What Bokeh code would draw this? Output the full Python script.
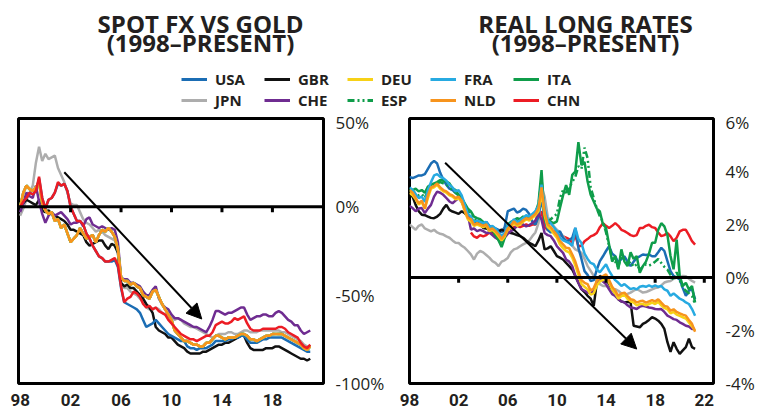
import numpy as np
from bokeh.plotting import figure
from bokeh.layouts import column, row
from bokeh.models import (Range1d, FixedTicker, PrintfTickFormatter, Span, Arrow,
                          NormalHead, Legend, LegendItem)
from bokeh.core.properties import value
from bokeh.embed import file_html
from bokeh.resources import INLINE

# ---------------- data ----------------
QUARTERS_RR = [1998.0 + 0.25 * i for i in range(94)]   # 1998Q1 .. 2021Q2
QUARTERS_FX = QUARTERS_RR[:93]                          # 1998Q1 .. 2021Q1

COUNTRIES = ["USA", "GBR", "DEU", "FRA", "ITA", "JPN", "CHE", "ESP", "NLD", "CHN"]
COLORS = {"USA": "#1b6db4", "GBR": "#111111", "DEU": "#f7d117", "FRA": "#27aae1",
          "ITA": "#0f9d4a", "JPN": "#adadad", "CHE": "#6f2c91", "ESP": "#0f9d4a",
          "NLD": "#f7941d", "CHN": "#ec1c24"}

TITLE_FX = ["SPOT FX VS GOLD", "(1998\u2013PRESENT)"]
TITLE_RR = ["REAL LONG RATES", "(1998\u2013PRESENT)"]

# Spot FX vs gold, % change since 1998 (euro members share one series)
FX_USA = [0, 3, 5, 8, 7, 9, 16, 5, -1, 4, 5, 8, 13, 12, 13, 9,
          0, -4, -8, -8, -10, -15, -18, -22, -25, -28, -29, -31, -31, -31, -30, -34,
          -46, -54, -55, -56, -57, -58, -60, -64, -68, -67, -66, -64, -66, -68, -70, -72,
          -73, -74, -75, -76, -76, -79, -80, -80, -81, -80, -80, -80, -79, -78, -76, -76,
          -76, -76, -75, -75, -74, -74, -73, -73, -75, -77, -77, -77, -76, -75, -75, -74,
          -74, -74, -74, -74, -75, -76, -77, -78, -79, -80, -81, -82, -82]
FX_GBR = [0, 2, 4, 3, 2, 1, 4, -2, -3, -2, -4, -5, -6, -7, -8, -10,
          -13, -13, -14, -15, -16, -20, -22, -21, -20, -19, -19, -22, -24, -21, -22, -26,
          -43, -45, -44, -46, -46, -48, -50, -52, -55, -57, -60, -68, -70, -71, -72, -74,
          -74, -76, -78, -79, -80, -82, -83, -83, -83, -83, -82, -82, -81, -80, -79, -78,
          -78, -77, -77, -76, -75, -74, -73, -73, -77, -80, -81, -81, -81, -81, -80, -80,
          -80, -79, -79, -80, -81, -82, -83, -84, -85, -86, -86, -87, -86]
FX_EUR = [0, 8, 12, 10, 9, 11, 14, 2, -2, -4, -3, -8, -7, -12, -10, -15,
          -20, -18, -16, -12, -15, -18, -17, -16, -20, -16, -13, -14, -12, -14, -17, -24,
          -40, -42, -42, -44, -43, -45, -46, -50, -51, -52, -48, -47, -51, -55, -58, -61,
          -64, -70, -72, -74, -76, -76, -77, -78, -78, -79, -79, -77, -77, -75, -73, -73,
          -74, -75, -74, -74, -74, -73, -72, -72, -73, -75, -75, -76, -75, -74, -73, -73,
          -72, -72, -72, -72, -73, -74, -75, -76, -77, -78, -80, -81, -79]
FX_JPN = [-5, -1, 4, 8, 12, 25, 34, 26, 30, 27, 28, 29, 22, 18, 14, 8,
          2, 1, 1, -3, -7, -9, -10, -12, -14, -13, -14, -16, -17, -18, -19, -25,
          -43, -46, -46, -48, -49, -50, -52, -54, -57, -58, -58, -57, -58, -60, -61, -62,
          -63, -64, -63, -64, -66, -67, -68, -68, -69, -70, -71, -72, -73, -74, -73, -72,
          -72, -72, -71, -71, -72, -72, -71, -70, -70, -71, -71, -71, -70, -70, -70, -70,
          -70, -70, -70, -71, -71, -72, -73, -74, -75, -76, -78, -79, -79]
FX_CHE = [-3, 2, 8, 6, 5, 12, 3, -4, -9, -5, -3, -5, -4, -3, -5, -7,
          -10, -9, -9, -8, -11, -7, -6, -10, -11, -12, -11, -12, -13, -12, -13, -20,
          -40, -41, -41, -43, -43, -44, -45, -48, -50, -50, -47, -45, -52, -55, -57, -58,
          -61, -63, -63, -64, -65, -66, -67, -68, -68, -69, -70, -71, -68, -64, -59, -59,
          -60, -61, -60, -60, -59, -58, -57, -57, -61, -64, -63, -62, -62, -61, -61, -62,
          -62, -60, -59, -60, -62, -64, -65, -67, -67, -70, -72, -71, -70]
FX_CHN = [0, 3, 5, 8, 7, 9, 17, 5, -1, 4, 5, 8, 14, 12, 13, 9,
          0, -4, -8, -8, -10, -15, -18, -22, -25, -28, -29, -31, -31, -30, -29, -33,
          -45, -54, -52, -51, -48, -49, -51, -55, -57, -56, -58, -57, -59, -60, -61, -64,
          -66, -68, -70, -72, -73, -74, -75, -75, -76, -75, -74, -73, -73, -71, -67, -66,
          -65, -66, -66, -65, -63, -64, -63, -62, -66, -69, -70, -70, -70, -69, -69, -69,
          -69, -69, -68, -68, -69, -71, -72, -73, -74, -77, -79, -80, -78]

# Real long rates, %
RR_USA = [3.8, 3.75, 3.8, 3.85, 3.85, 3.9, 4.1, 4.3, 4.4, 4.3, 3.95, 3.7, 3.5, 3.35, 3.3, 3.2,
          3.1, 3.0, 2.7, 2.4, 2.2, 2.05, 2.1, 2.05, 2.0, 2.1, 1.95, 1.9, 1.85, 1.8, 1.7, 1.9,
          2.5, 2.55, 2.6, 2.45, 2.5, 2.6, 2.55, 2.4, 2.1, 2.0, 2.3, 3.0, 2.2, 1.8, 1.7, 1.75,
          1.7, 1.74, 1.5, 1.37, 1.4, 1.5, 1.87, 1.12, 0.7, 0.24, 0.1, -0.13, -0.1, 0.3, 0.62, 0.8,
          1.0, 1.18, 0.9, 0.8, 0.56, 0.7, 0.8, 0.6, 0.43, 0.6, 0.74, 0.8, 0.87, 0.85, 0.87, 0.8,
          0.8, 0.95, 1.12, 1.0, 0.62, 0.24, 0.06, 0.0, -0.07, -0.4, -0.69, -0.5, -0.44, -0.82]
RR_GBR = [3.1, 3.05, 2.74, 2.5, 2.37, 2.35, 2.3, 2.25, 2.24, 2.3, 2.4, 2.6, 2.74, 2.55, 2.49, 2.45,
          2.4, 2.5, 2.43, 2.3, 2.12, 2.05, 2.1, 2.0, 1.87, 1.85, 1.8, 1.75, 1.68, 1.72, 1.81, 1.75,
          1.7, 1.68, 1.65, 1.6, 1.56, 1.5, 1.4, 1.31, 1.25, 1.18, 1.4, 1.68, 1.06, 1.1, 1.18, 1.0,
          0.81, 0.75, 0.68, 0.55, 0.43, 0.3, 0.06, -0.2, -0.44, -0.55, -0.69, -0.8, -1.07, -0.19, 0.06, 0.0,
          -0.07, -0.25, -0.44, -0.6, -0.82, -0.9, -0.94, -0.92, -0.94, -1.82, -1.85, -1.88, -1.75, -1.69, -1.6, -1.5,
          -1.55, -1.63, -1.75, -1.94, -2.44, -2.81, -2.44, -2.69, -2.88, -2.75, -2.63, -2.31, -2.63, -2.69]
RR_DEU = [3.2, 3.1, 2.95, 2.75, 2.85, 2.6, 3.0, 3.35, 3.4, 3.5, 3.35, 3.25, 3.2, 3.1, 3.05, 2.95,
          3.0, 2.85, 2.5, 2.2, 2.1, 1.95, 2.0, 1.95, 1.9, 1.95, 1.75, 1.8, 1.7, 1.55, 1.4, 1.55,
          1.8, 1.9, 2.05, 1.95, 2.0, 2.1, 2.2, 2.15, 2.25, 2.35, 2.5, 3.2, 2.35, 1.9, 1.8, 1.65,
          1.5, 1.25, 1.1, 1.0, 0.95, 0.75, 0.45, 0.1, -0.25, -0.35, -0.45, -0.65, -0.6, -0.3, -0.15, -0.1,
          0.0, -0.2, -0.45, -0.6, -0.8, -0.7, -0.65, -0.8, -0.9, -0.95, -1.05, -1.0, -1.0, -1.05, -1.0, -0.95,
          -1.0, -0.92, -1.05, -1.15, -1.2, -1.35, -1.3, -1.4, -1.45, -1.5, -1.55, -1.7, -1.85, -2.0]
RR_FRA = [3.4, 3.3, 3.15, 3.0, 3.05, 2.85, 3.3, 3.6, 3.85, 3.9, 3.8, 3.75, 3.65, 3.5, 3.4, 3.25,
          3.3, 3.1, 2.75, 2.4, 2.3, 2.1, 2.15, 2.1, 2.05, 2.1, 1.9, 1.95, 1.85, 1.7, 1.55, 1.7,
          1.95, 2.05, 2.2, 2.1, 2.15, 2.25, 2.35, 2.3, 2.4, 2.5, 2.7, 3.5, 2.6, 2.15, 2.05, 1.9,
          1.75, 1.5, 1.4, 1.35, 1.3, 1.2, 1.87, 1.45, 1.3, 0.9, 0.7, 0.55, 0.5, 0.3, 0.2, 0.35,
          0.5, 0.25, 0.06, -0.1, -0.2, -0.32, -0.25, -0.35, -0.44, -0.4, -0.45, -0.35, -0.32, -0.35, -0.3, -0.35,
          -0.3, -0.35, -0.32, -0.45, -0.5, -0.69, -0.6, -0.7, -0.8, -0.85, -0.94, -1.0, -1.19, -1.44]
RR_ITA = [3.35, 3.3, 3.35, 3.25, 3.3, 3.2, 3.43, 3.5, 3.55, 3.6, 3.68, 3.65, 3.62, 3.55, 3.37, 3.3,
          3.12, 3.0, 2.8, 2.6, 2.49, 2.3, 2.24, 2.2, 2.1, 2.0, 1.87, 1.8, 1.62, 1.4, 1.15, 1.5,
          2.0, 2.1, 2.15, 2.24, 2.2, 2.3, 2.25, 2.3, 2.37, 2.45, 2.8, 4.05, 2.2, 2.0, 2.1, 2.05,
          2.12, 2.62, 3.1, 3.49, 3.12, 3.87, 4.0, 5.11, 4.24, 4.36, 3.62, 3.12, 2.87, 2.6, 2.49, 2.0,
          1.87, 1.24, 0.6, 0.81, 0.31, 1.06, 0.6, 0.43, 0.95, 0.7, 0.81, 0.18, 0.43, 0.6, 0.9, 1.31,
          1.31, 1.8, 2.05, 1.93, 1.6, 0.81, 0.31, 1.43, 0.06, -0.32, -0.2, -0.45, -0.32, -0.94]
RR_JPN = [2.0, 1.9, 1.8, 1.95, 2.0, 1.85, 1.8, 1.74, 1.8, 1.7, 1.65, 1.62, 1.55, 1.5, 1.4, 1.31,
          1.3, 1.2, 1.12, 1.0, 0.87, 0.68, 0.9, 1.0, 0.95, 0.85, 0.75, 0.62, 0.55, 0.43, 0.6, 0.65,
          0.74, 0.95, 1.06, 1.1, 1.18, 1.25, 1.31, 1.4, 1.56, 1.7, 2.05, 3.43, 3.05, 2.3, 2.1, 1.93,
          1.8, 1.7, 1.56, 1.4, 1.31, 1.2, 1.06, 1.0, 0.93, 0.7, 0.43, 0.25, 0.06, -0.19, -0.25, -0.32,
          -0.32, -0.38, -0.44, -0.44, -0.5, -0.6, -0.69, -0.62, -0.57, -0.5, -0.44, -0.5, -0.57, -0.55, -0.5, -0.45,
          -0.4, -0.38, -0.3, -0.19, -0.15, -0.13, -0.05, 0.0, 0.0, 0.06, 0.05, -0.05, -0.13, -0.19]
RR_CHE = [2.7, 2.62, 2.5, 2.6, 2.62, 2.43, 2.6, 2.74, 3.05, 3.24, 3.2, 3.12, 3.0, 2.87, 2.8, 2.9,
          3.0, 2.85, 2.6, 2.37, 1.81, 1.85, 1.75, 1.8, 1.75, 1.68, 1.7, 1.6, 1.5, 1.43, 1.37, 1.5,
          1.65, 1.75, 1.81, 1.95, 2.05, 2.0, 1.93, 1.98, 2.05, 2.15, 2.43, 2.18, 1.68, 1.6, 1.56, 1.4,
          1.18, 1.05, 0.93, 0.68, 0.6, 0.43, 0.06, -0.2, -0.44, -0.5, -0.57, -0.6, -0.5, -0.2, -0.07, -0.15,
          -0.25, -0.45, -0.63, -0.7, -0.82, -0.9, -0.94, -1.05, -1.13, -1.15, -1.19, -1.1, -1.07, -1.1, -1.13, -1.15,
          -1.19, -1.2, -1.19, -1.3, -1.44, -1.5, -1.57, -1.6, -1.69, -1.75, -1.82, -1.85, -1.94, -1.94]
RR_ESP = [3.3, 3.2, 3.2, 3.1, 3.15, 3.0, 3.3, 3.45, 3.5, 3.55, 3.6, 3.55, 3.5, 3.4, 3.3, 3.2,
          3.1, 2.95, 2.7, 2.5, 2.35, 2.2, 2.15, 2.1, 2.0, 1.95, 1.8, 1.75, 1.6, 1.45, 1.3, 1.5,
          1.9, 2.0, 2.1, 2.15, 2.1, 2.2, 2.2, 2.25, 2.3, 2.4, 2.7, 3.7, 2.3, 2.1, 2.2, 2.3,
          2.4, 3.0, 3.3, 3.2, 3.4, 3.6, 3.8, 4.2, 4.1, 4.9, 4.5, 3.4, 3.0, 2.6, 2.3, 2.1,
          1.7, 1.2, 0.7, 0.6, 0.4, 0.8, 0.7, 0.5, 0.6, 0.4, 0.5, 0.3, 0.4, 0.5, 0.45, 0.5,
          0.6, 0.7, 0.55, 0.4, 0.3, 0.1, -0.1, 0.2, -0.1, -0.4, -0.5, -0.6, -0.7, -1.0]
RR_NLD = [3.3, 3.2, 3.0, 2.8, 2.9, 2.6, 3.1, 3.4, 3.45, 3.55, 3.4, 3.3, 3.25, 3.15, 3.1, 3.0,
          3.05, 2.9, 2.55, 2.25, 2.2, 1.99, 2.05, 2.0, 1.95, 2.0, 1.8, 1.85, 1.75, 1.62, 1.45, 1.6,
          1.85, 1.95, 2.12, 2.0, 2.05, 2.15, 2.24, 2.2, 2.3, 2.4, 2.6, 3.4, 2.45, 2.0, 1.9, 1.74,
          1.6, 1.37, 1.25, 1.12, 1.1, 0.87, 0.6, 0.24, -0.1, -0.2, -0.25, -0.5, -0.4, -0.13, 0.0, 0.05,
          0.12, -0.1, -0.35, -0.5, -0.69, -0.6, -0.57, -0.7, -0.82, -0.85, -0.94, -0.9, -0.88, -0.95, -0.9, -0.85,
          -0.9, -0.82, -0.95, -1.07, -1.1, -1.25, -1.2, -1.3, -1.35, -1.4, -1.44, -1.6, -1.75, -2.05]
NA = float("nan")
RR_CHN = [NA] * 20 + [
          1.7, 1.55, 1.5, 1.6, 1.55, 1.6, 1.7, 1.65, 1.6, 1.55, 1.5, 1.65,
          1.8, 1.85, 1.9, 1.95, 1.9, 1.95, 2.0, 1.95, 2.0, 2.0, 2.2, 2.5, 1.9, 1.8, 1.75, 1.7,
          1.65, 1.6, 1.55, 1.5, 1.45, 1.3, 1.6, 1.18, 1.2, 1.37, 1.45, 1.55, 1.6, 1.68, 1.9, 2.05,
          1.95, 1.87, 1.95, 2.05, 1.95, 1.8, 1.75, 1.68, 1.6, 1.56, 1.6, 1.87, 1.87, 1.95, 1.99, 1.9,
          1.87, 1.7, 1.56, 1.6, 1.68, 1.55, 1.37, 1.5, 1.74, 1.8, 1.8, 1.6, 1.37, 1.24]

FX_SERIES = {"USA": FX_USA, "GBR": FX_GBR, "DEU": FX_EUR, "FRA": FX_EUR, "ITA": FX_EUR,
             "JPN": FX_JPN, "CHE": FX_CHE, "ESP": FX_EUR, "NLD": FX_EUR, "CHN": FX_CHN}
RR_SERIES = {"USA": RR_USA, "GBR": RR_GBR, "DEU": RR_DEU, "FRA": RR_FRA, "ITA": RR_ITA,
             "JPN": RR_JPN, "CHE": RR_CHE, "ESP": RR_ESP, "NLD": RR_NLD, "CHN": RR_CHN}
FX_ORDER = ["JPN", "GBR", "USA", "CHE", "ITA", "ESP", "FRA", "DEU", "NLD", "CHN"]
RR_ORDER = ["CHN", "JPN", "USA", "GBR", "CHE", "ESP", "ITA", "FRA", "DEU", "NLD"]

X_TICKS_FX = [1998, 2002, 2006, 2010, 2014, 2018]
X_TICKS_RR = [1998, 2002, 2006, 2010, 2014, 2018, 2022]
X_TICK_LABELS = {1998: "98", 2002: "02", 2006: "06", 2010: "10", 2014: "14", 2018: "18", 2022: "22"}
Y_TICKS_FX = [-100, -50, 0, 50]
Y_TICKS_RR = [-4, -2, 0, 2, 4, 6]
ZERO_TICKS_FX = [2002, 2006, 2010, 2014, 2018]
ZERO_TICKS_RR = [2002, 2006, 2010, 2014, 2018, 2022]
ARROW_FX = (2001.5, 19.6, 2012.4, -63.5)
ARROW_RR = (2000.9, 4.33, 2016.5, -2.7)

FONT = "Open Sans"
DASH = {"ESP": "7 3 2 3 2 3"}
INK = "#231f20"


def panel(x_rng, y_rng, x_ticks, y_ticks, width, mb_left, mb_right):
    p = figure(width=width, height=299, x_range=Range1d(*x_rng), y_range=Range1d(*y_rng),
               y_axis_location="right", output_backend="svg", toolbar_location=None,
               min_border_left=mb_left, min_border_right=mb_right, min_border_top=8,
               min_border_bottom=26)
    p.xgrid.visible = False
    p.ygrid.visible = False
    p.outline_line_color = "black"
    p.outline_line_width = 3
    p.outline_line_alpha = 1
    for ax in (p.xaxis[0], p.yaxis[0]):
        ax.axis_line_color = None
        ax.major_tick_line_color = None
        ax.minor_tick_line_color = None
        ax.major_label_text_color = INK
    p.xaxis.ticker = FixedTicker(ticks=x_ticks)
    p.xaxis.major_label_overrides = {k: X_TICK_LABELS[k] for k in x_ticks}
    p.xaxis.major_label_text_font = "Roboto"
    p.xaxis.major_label_text_font_style = "bold"
    p.xaxis.major_label_text_font_size = "17px"
    p.xaxis.major_label_standoff = 4
    p.yaxis.ticker = FixedTicker(ticks=y_ticks)
    p.yaxis.formatter = PrintfTickFormatter(format="%d%%")
    p.yaxis.major_label_text_font = FONT
    p.yaxis.major_label_text_font_size = "17px"
    p.yaxis.major_label_standoff = 6
    return p


def decorate(p, zero_ticks, tick_len, arrow):
    p.add_layout(Span(location=0, dimension="width", line_color="black", line_width=3))
    p.segment(x0=zero_ticks, y0=0, x1=zero_ticks, y1=-tick_len, line_color="black", line_width=3)
    p.add_layout(Arrow(x_start=arrow[0], y_start=arrow[1], x_end=arrow[2], y_end=arrow[3],
                       line_color="black", line_width=2,
                       end=NormalHead(size=15, fill_color="black", line_color="black")))


# ---------------- left panel ----------------
p1 = panel((1997.87, 2022.05), (-100, 50), X_TICKS_FX, Y_TICKS_FX, 387, 18, 60)
for c in FX_ORDER:
    p1.line(QUARTERS_FX, FX_SERIES[c], line_color=COLORS[c], line_width=2.5,
            line_dash=DASH.get(c, "solid"))
decorate(p1, ZERO_TICKS_FX, 3.0, ARROW_FX)

# ---------------- right panel ----------------
p2 = panel((1998.0, 2022.75), (-4, 6), X_TICKS_RR, Y_TICKS_RR, 370, 22, 39)
for c in RR_ORDER:
    p2.line(QUARTERS_RR, RR_SERIES[c], line_color=COLORS[c], line_width=2.5,
            line_dash=DASH.get(c, "solid"))
decorate(p2, ZERO_TICKS_RR, 0.2, ARROW_RR)

# ---------------- header: titles + legend ----------------
hdr = figure(width=757, height=110, x_range=Range1d(0, 757), y_range=Range1d(110, 0),
             x_axis_type=None, y_axis_type=None, output_backend="svg", toolbar_location=None,
             min_border=0, outline_line_color=None)
hdr.xgrid.visible = False
hdr.ygrid.visible = False
hdr.text(x=[200, 200], y=[23, 42], text=TITLE_FX, text_align="center", text_baseline="middle",
         text_font=value(FONT), text_font_style="bold", text_font_size="24px", text_color=INK)
hdr.text(x=[585, 585], y=[23, 42], text=TITLE_RR, text_align="center", text_baseline="middle",
         text_font=value(FONT), text_font_style="bold", text_font_size="24px", text_color=INK)

items = {}
for c in COUNTRIES:
    # off-screen sample so that the legend has a glyph to draw
    r = hdr.line(x=[-60, -40], y=[-60, -60], line_color=COLORS[c], line_width=3,
                 line_dash=DASH.get(c, "solid"))
    items[c] = LegendItem(label=c, renderers=[r])

for names, ypos in ((COUNTRIES[:5], 21), (COUNTRIES[5:], 0)):
    leg = Legend(items=[items[n] for n in names], orientation="horizontal", location=(181, ypos),
                 glyph_width=26, glyph_height=18, label_standoff=8, label_width=45, spacing=4,
                 padding=0, margin=0, border_line_color=None, background_fill_alpha=0,
                 label_text_font=FONT, label_text_font_style="bold", label_text_font_size="15px",
                 label_text_color=INK, label_height=18)
    hdr.add_layout(leg, "center")

layout = column(hdr, row(p1, p2))
open("out.html", "w").write(file_html(layout, INLINE))
